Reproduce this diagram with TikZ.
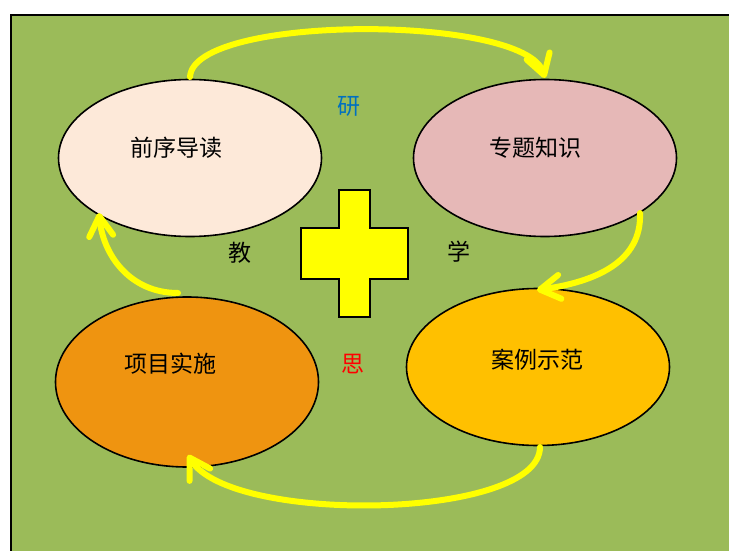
\documentclass[tikz,border=0pt]{standalone}
\usepackage{fontspec}
\newfontfamily\cjk{Noto Sans CJK SC}
\usetikzlibrary{arrows.meta,shapes.geometric}
\definecolor{bggreen}{HTML}{9BBB59}
\definecolor{peach}{HTML}{FDE9D9}
\definecolor{rose}{HTML}{E6B8B7}
\definecolor{deeporange}{HTML}{EF9410}
\definecolor{amber}{HTML}{FFC000}
\definecolor{brightyellow}{HTML}{FFFF00}
\definecolor{textblue}{HTML}{0070C0}
\tikzset{
  oval/.style={ellipse, draw=black, line width=1.6pt, minimum width=263pt, minimum height=157pt, inner sep=0pt},
  lbl/.style={font=\cjk\fontsize{23}{27}\selectfont, inner sep=0pt},
  cyc/.style={draw=brightyellow, line width=6pt, line cap=round, line join=round,
    -{Straight Barb[length=20pt,width=24pt,line cap=round,line join=round]}},
}
\begin{document}
\begin{tikzpicture}[x=1pt,y=-1pt]
\useasboundingbox (0,0) rectangle (729,551);
\fill[white] (0,0) rectangle (729,551);
\fill[bggreen] (11,15) rectangle (735,560);
\draw[black, line width=2pt] (11,560) -- (11,15) -- (735,15);
% ellipses
\node[oval, fill=peach] (e1) at (190,158) {};
\node[oval, fill=rose] (e2) at (545,158) {};
\node[oval, fill=deeporange, minimum height=170pt] (e3) at (187,382) {};
\node[oval, fill=amber] (e4) at (538,367) {};
\node[lbl] (t1) at (176.5,148) {前序导读};
\node[lbl] (t2) at (535,148) {专题知识};
\node[lbl] (t3) at (170,364) {项目实施};
\node[lbl] (t4) at (537,360) {案例示范};
% cross
\draw[fill=brightyellow, line width=1.6pt, line join=miter]
  (339,190) -- (370,190) -- (370,228) -- (408,228) -- (408,279) -- (370,279)
  -- (370,317) -- (339,317) -- (339,279) -- (301,279) -- (301,228) -- (339,228) -- cycle;
% side characters
\node[lbl, text=textblue] (yan) at (349,106) {研};
\node[lbl] (jiao) at (240,253) {教};
\node[lbl] (xue) at (459,252) {学};
\node[lbl, text=red] (si) at (353,364) {思};
% cycle arrows
\coordinate (a1s) at (190,77);
\coordinate (a1e) at (545,78);
\coordinate (a2s) at (640,213);
\coordinate (a2e) at (537,290);
\coordinate (a3s) at (540,447);
\coordinate (a3e) at (188,455);
\coordinate (a4s) at (178,293);
\coordinate (a4e) at (99,213);
\draw[cyc] (a1s) .. controls (193,14) and (525,14) .. (a1e);
\draw[cyc] (a2s) .. controls (642,262) and (595,282) .. (a2e);
\draw[cyc] (a3s) .. controls (540,520) and (230,525) .. (a3e);
\draw[cyc] (a4s) .. controls (130,293) and (103,255) .. (a4e);
\end{tikzpicture}
\end{document}
